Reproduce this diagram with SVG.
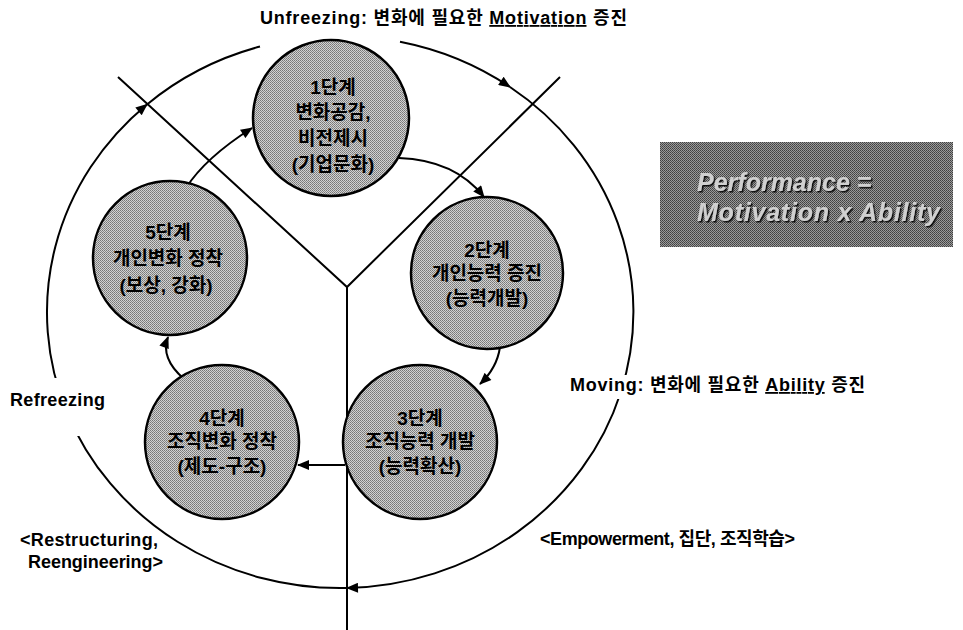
<svg xmlns="http://www.w3.org/2000/svg" width="963" height="630" viewBox="0 0 963 630">
<defs>
<pattern id="dotNode" width="2" height="2" patternUnits="userSpaceOnUse">
<rect width="2" height="2" fill="#d2d2d2"/>
<rect x="0" y="0" width="1" height="1" fill="#777"/>
<rect x="1" y="1" width="1" height="1" fill="#888"/>
</pattern>
<pattern id="dotBox" width="2" height="2" patternUnits="userSpaceOnUse">
<rect width="2" height="2" fill="#9a9a9a"/>
<rect x="0" y="0" width="1" height="1" fill="#404040"/>
<rect x="1" y="1" width="1" height="1" fill="#505050"/>
</pattern>
<filter id="shadow" x="-5%" y="-20%" width="110%" height="140%">
<feDropShadow dx="1.5" dy="1.5" stdDeviation="0.4" flood-color="#111" flood-opacity="1"/>
</filter>
<marker id="arr" viewBox="0 0 12 10" refX="11" refY="5" markerWidth="13" markerHeight="10" markerUnits="userSpaceOnUse" orient="auto">
<path d="M0,0 L12,5 L0,10 z" fill="#000"/>
</marker>
<style>
.ln{fill:none;stroke:#000;stroke-width:2}
.nd{fill:url(#dotNode);stroke:#000;stroke-width:2.5}
.nt{font-family:"Liberation Sans","Noto Sans CJK KR",sans-serif;font-weight:bold;font-size:19px;fill:#000;text-anchor:middle}
.lb{font-family:"Liberation Sans","Noto Sans CJK KR",sans-serif;font-weight:bold;font-size:18px;fill:#000}
.pf{font-family:"Liberation Sans","Noto Sans CJK KR",sans-serif;font-weight:bold;font-style:italic;font-size:25px;fill:#d0d0d0;filter:url(#shadow)}
</style>
</defs>
<rect width="963" height="630" fill="#fff"/>

<g id="connectors">
<path class="ln" d="M400,41.8 A293,276 0 0 1 510,87" marker-end="url(#arr)"/>
<path class="ln" d="M510,87 A293,276 0 0 1 347,588" marker-end="url(#arr)"/>
<path class="ln" d="M347,588 A293,276 0 0 1 147,104.4" marker-end="url(#arr)"/>
<path class="ln" d="M147,104.4 A293,276 0 0 1 260,46.5"/>
<path class="ln" d="M118,77 L347,287 L560,77"/>
<path class="ln" d="M347,287 L347,630"/>
<path class="ln" d="M186,188 Q205,158 252,128" marker-end="url(#arr)"/>
<path class="ln" d="M399,158 Q455,160 484,197" marker-end="url(#arr)"/>
<path class="ln" d="M500,347 Q497,368 480,384" marker-end="url(#arr)"/>
<path class="ln" d="M345,465 L298,465" marker-end="url(#arr)"/>
<path class="ln" d="M184,379 Q160,358 168,337" marker-end="url(#arr)"/>
</g>

<g id="labels">
<text class="lb" x="260" y="24" textLength="367" lengthAdjust="spacing">Unfreezing: 변화에 필요한 <tspan text-decoration="underline">Motivation</tspan> 증진</text>
<rect x="564" y="375" width="308" height="24" fill="#fff"/>
<text class="lb" x="570" y="391" textLength="295" lengthAdjust="spacing">Moving: 변화에 필요한 <tspan text-decoration="underline">Ability</tspan> 증진</text>
<rect x="4" y="378" width="108" height="58" fill="#fff"/>
<text class="lb" x="10" y="406" textLength="95" lengthAdjust="spacing">Refreezing</text>
<text class="lb" x="20" y="546" textLength="138" lengthAdjust="spacing">&lt;Restructuring,</text>
<text class="lb" x="28" y="568" textLength="135" lengthAdjust="spacing">Reengineering&gt;</text>
<text class="lb" x="540" y="545" textLength="255" lengthAdjust="spacing">&lt;Empowerment, 집단, 조직학습&gt;</text>
</g>

<g id="node1">
<circle class="nd" cx="331" cy="118" r="78"/>
<text class="nt" x="333" y="94">1단계</text>
<text class="nt" x="333" y="119">변화공감,</text>
<text class="nt" x="333" y="145">비전제시</text>
<text class="nt" x="333" y="171">(기업문화)</text>
</g>
<g id="node2">
<circle class="nd" cx="487" cy="273" r="76"/>
<text class="nt" x="487" y="257">2단계</text>
<text class="nt" x="487" y="280">개인능력 증진</text>
<text class="nt" x="487" y="305">(능력개발)</text>
</g>
<g id="node3">
<circle class="nd" cx="420" cy="442" r="77"/>
<text class="nt" x="420" y="425">3단계</text>
<text class="nt" x="420" y="448">조직능력 개발</text>
<text class="nt" x="420" y="473">(능력확산)</text>
</g>
<g id="node4">
<circle class="nd" cx="222" cy="442" r="77"/>
<text class="nt" x="222" y="425">4단계</text>
<text class="nt" x="222" y="448">조직변화 정착</text>
<text class="nt" x="222" y="473">(제도-구조)</text>
</g>
<g id="node5">
<circle class="nd" cx="170" cy="258" r="77"/>
<text class="nt" x="168" y="239">5단계</text>
<text class="nt" x="168" y="265">개인변화 정착</text>
<text class="nt" x="166" y="292">(보상, 강화)</text>
</g>

<g id="formula">
<rect x="660" y="142" width="293" height="105" fill="url(#dotBox)"/>
<text class="pf" x="697" y="191">Performance =</text>
<text class="pf" x="697" y="221" textLength="243" lengthAdjust="spacing">Motivation x Ability</text>
</g>
</svg>
